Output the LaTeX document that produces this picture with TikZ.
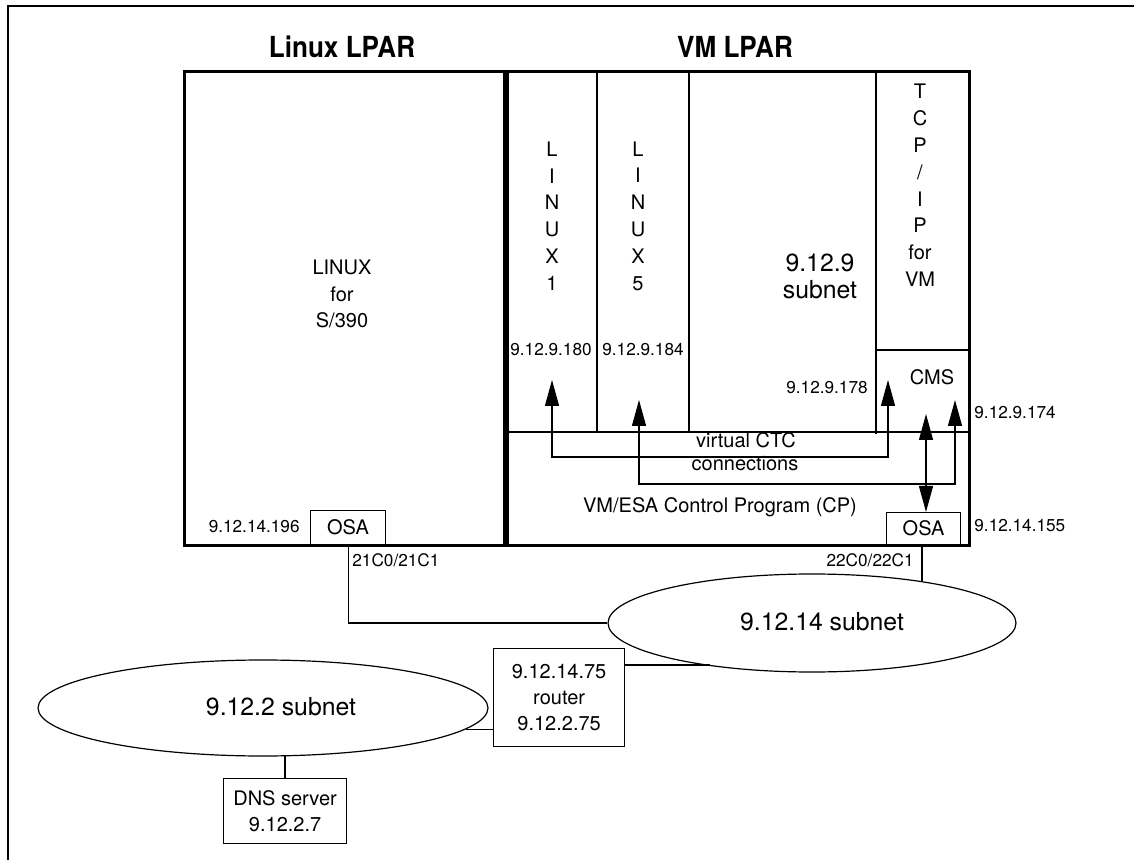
\documentclass[tikz,border=0pt]{standalone}
\usepackage{fontspec}
\setmainfont{TeX Gyre Heros}
\newfontfamily\titlefont[FakeStretch=0.9]{TeX Gyre Heros}
\usetikzlibrary{shapes.geometric,arrows.meta}
\begin{document}
\begin{tikzpicture}[x=0.5pt,y=-0.5pt,
  frameline/.style={line width=0.75pt},
  lpar/.style={draw,line width=1.5pt,anchor=north west,inner sep=0pt},
  thinline/.style={line width=0.6pt},
  smallbox/.style={draw,line width=0.6pt,anchor=north west,inner sep=0pt,align=center,font=\fontsize{10}{13}\selectfont},
  net/.style={draw,ellipse,line width=0.6pt,inner sep=0pt,font=\fontsize{12.4}{14}\selectfont},
  title/.style={font=\titlefont\fontsize{14.5}{17}\selectfont\bfseries},
  lbl/.style={font=\fontsize{10}{13}\selectfont,inner sep=0pt},
  small/.style={font=\fontsize{8.6}{11}\selectfont,inner sep=0pt},
  stack/.style={align=center,inner sep=0pt,font=\fontsize{10}{13.4}\selectfont},
  big/.style={align=center,inner sep=0pt,font=\fontsize{12.4}{13.5}\selectfont},
  ctc/.style={line width=0.6pt,{Triangle[length=13pt,width=7pt]}-{Triangle[length=13pt,width=7pt]}}]
\useasboundingbox (0,0) rectangle (1134,860);
\draw[frameline] (8,860) -- (8,6) -- (1134,6);

% titles
\node[title] (tlinux) at (342,47) {Linux LPAR};
\node[title] (tvm) at (735,47) {VM LPAR};

% LPAR boxes
\node[lpar,minimum width=160pt,minimum height=237pt] (linuxlpar) at (183,70) {};
\node[lpar,minimum width=231pt,minimum height=237pt] (vmlpar) at (506,70) {};

% VM inner divisions
\draw[thinline] (597,70) -- (597,432);
\draw[thinline] (689,70) -- (689,432);
\draw[thinline] (876,70) -- (876,434);
\draw[thinline] (876,350) -- (968,350);
\draw[thinline] (506,432) -- (968,432);

% Linux LPAR text
\node[stack,font=\fontsize{10}{13.25}\selectfont] (linuxs390) at (342,294) {LINUX\\for\\S/390};

% guest columns
\node[stack] (lx1) at (552,216) {L\\I\\N\\U\\X\\1};
\node[stack] (lx5) at (638,216) {L\\I\\N\\U\\X\\5};
\node[big] (sub9) at (820,276.5) {9.12.9\\subnet};
\node[stack] (tcpip) at (920,185.5) {T\\C\\P\\/\\I\\P\\for\\VM};
\node[lbl] (cms) at (932,377) {CMS};

% addresses
\node[small] (a180) at (551,350) {9.12.9.180};
\node[small] (a184) at (643,350) {9.12.9.184};
\node[small] (a178) at (827,388) {9.12.9.178};
\node[small,anchor=west] (a174) at (974,413) {9.12.9.174};
\node[small,anchor=west] (a155) at (974,526) {9.12.14.155};
\node[small,anchor=east] (a196) at (300,527) {9.12.14.196};

% CTC labels
\node[lbl] (vctc) at (746,440) {virtual CTC};
\node[lbl] (conn) at (745,464) {connections};
\node[lbl] (cp) at (720,507) {VM/ESA Control Program (CP)};

% OSA boxes
\node[smallbox,minimum width=37.5pt,minimum height=17pt] (osaL) at (310,510) {OSA};
\node[smallbox,minimum width=37pt,minimum height=16pt] (osaR) at (886,512) {OSA};

% CTC arrows
\coordinate (t1a) at (552,380);
\coordinate (t1b) at (888,380);
\coordinate (t2a) at (639,400);
\coordinate (t2b) at (955,400);
\coordinate (tcms) at (926,414);
\draw[ctc] (t1a) -- (552,457) -- (888,457) -- (t1b);
\draw[ctc] (t2a) -- (639,484) -- (955,484) -- (t2b);
\draw[ctc] (tcms) -- (tcms |- osaR.north);

% networks
\node[net,minimum width=204pt,minimum height=49pt] (net14) at (812,623) {};
\node[lbl,font=\fontsize{12.4}{14}\selectfont] (net14t) at (822,622) {9.12.14 subnet};
\node[net,minimum width=225pt,minimum height=48pt] (net2) at (263,708) {};
\node[lbl,font=\fontsize{12.4}{14}\selectfont] (net2t) at (281,707) {9.12.2 subnet};

\node[small,anchor=west] (c21) at (352,560) {21C0/21C1};
\node[small,anchor=east] (c22) at (914,560) {22C0/22C1};

\draw[thinline] (osaL.south) |- (net14.west);
\coordinate (e14top) at (922,581.5);
\draw[thinline] (osaR.south -| e14top) -- (e14top);

% router and DNS
\node[smallbox,minimum width=65.5pt,minimum height=49pt] (router) at (493,648) {9.12.14.75\\router\\9.12.2.75};
\node[smallbox,minimum width=61.5pt,minimum height=32.5pt] (dns) at (223,778) {DNS server\\9.12.2.7};

\coordinate (e14bot) at (710,665);
\draw[thinline] (router.east |- e14bot) -- (e14bot);
\coordinate (e2right) at (466,729.5);
\draw[thinline] (router.west |- e2right) -- (e2right);
\coordinate (e2bot) at (285,755.8);
\draw[thinline] (e2bot) -- (e2bot |- dns.north);
\end{tikzpicture}
\end{document}
